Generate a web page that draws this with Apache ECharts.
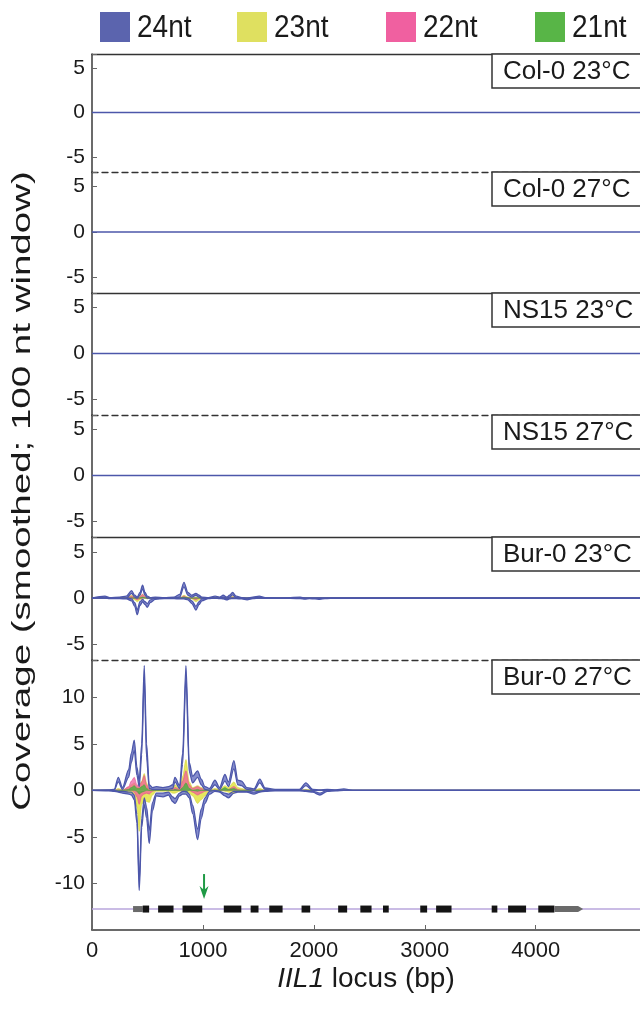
<!DOCTYPE html>
<html><head><meta charset="utf-8">
<script src="https://cdn.jsdelivr.net/npm/echarts@6/dist/echarts.min.js"></script>
<style>html,body{margin:0;padding:0;background:#fff}#c{width:640px;height:1010px}</style>
</head><body><div id="c"></div>
<script>
// ---------------- data ----------------
const SIZE_CLASSES = ['24nt', '23nt', '22nt', '21nt'];
const PANEL_LABELS = ['Col-0 23°C', 'Col-0 27°C', 'NS15 23°C', 'NS15 27°C', 'Bur-0 23°C', 'Bur-0 27°C'];
const X_TICKS = [0, 1000, 2000, 3000, 4000];
const Y_TICKS_SMALL = [-5, 0, 5];
const Y_TICKS_BIG = [-10, -5, 0, 5, 10];
const Y_AXIS_TITLE = 'Coverage (smoothed; 100 nt window)';

// flat (no coverage) panels: Col-0 23, Col-0 27, NS15 23, NS15 27
const X_FLAT = [0, 4940];
const FLAT = [0, 0];

// Bur-0 23°C
const X_B23 = [0,117,160,250,310, 357,385,408,432,456, 478,498,525,570,650, 740,790,829,865,900, 937,965,990,1050,1110, 1150,1183,1216,1240,1267, 1300,1350,1398,1450,1508, 1560,1700,1877,1920,1960, 2010,2054,2100,2200,4940];
const B23_24_POS_OUTER = [0,0.2,0.05,0.1,0.2, 0.8,0.3,0.1,0.6,1.4, 0.6,0.2,0.05,0.1,0.05, 0.1,0.4,1.7,0.6,0.3, 0.5,0.3,0.1,0.05,0.2, 0.1,0.3,0.1,0.3,0.6, 0.2,0.05,0,0.1,0.2, 0.05,0,0.1,0,0, 0,0,0,0,0];
const B23_24_POS_INNER = [0,0.1,0,0,0, 0.5,0.1,0,0.3,1.0, 0.3,0,0,0,0, 0,0.1,1.2,0.3,0.1, 0.3,0.1,0,0,0, 0,0.1,0,0.1,0.35, 0.05,0,0,0,0.1, 0,0,0,0,0, 0,0,0,0,0];
const B23_24_NEG_OUTER = [0,0,-0.05,-0.05,-0.1, -0.3,-0.9,-1.8,-0.8,-0.4, -0.7,-1.0,-0.5,-0.15,-0.05, -0.05,-0.1,-0.1,-0.2,-0.6, -1.3,-0.7,-0.3,-0.05,0, -0.05,-0.1,-0.2,-0.1,-0.05, -0.05,-0.1,-0.2,-0.05,0, 0,0,-0.05,-0.12,-0.05, -0.1,-0.15,-0.05,0,0];
const B23_24_NEG_INNER = [0,0,0,0,0, -0.1,-0.5,-1.3,-0.4,-0.15, -0.4,-0.6,-0.2,0,0, 0,0,0,0,-0.3, -0.9,-0.4,-0.1,0,0, 0,0,-0.1,0,0, 0,0,-0.1,0,0, 0,0,0,0,0, 0,0,0,0,0];
const B23_23_POS = [0,0,0,0,0, 0.3,0.1,0,0.2,0.4, 0.2,0,0,0,0, 0,0,0.3,0.1,0, 0.1,0,0,0,0, 0,0,0,0,0.2, 0,0,0,0,0, 0,0,0,0,0, 0,0,0,0,0];
const B23_23_NEG = [0,0,0,0,0, 0,-0.2,-0.4,-0.2,0, 0,-0.1,0,0,0, 0,0,0,0,-0.1, -0.4,-0.2,0,0,0, 0,0,0,0,0, 0,0,0,0,0, 0,0,0,0,0, 0,0,0,0,0];
const B23_22_POS = [0,0,0,0,0, 0.2,0,0,0.1,0.4, 0.1,0,0,0,0, 0,0,0.2,0,0, 0,0,0,0,0, 0,0,0,0,0.1, 0,0,0,0,0, 0,0,0,0,0, 0,0,0,0,0];
const B23_22_NEG = [0,0,0,0,0, 0,-0.05,-0.2,-0.05,0, 0,0,0,0,0, 0,0,0,0,0, -0.2,0,0,0,0, 0,0,0,0,0, 0,0,0,0,0, 0,0,0,0,0, 0,0,0,0,0];
const B23_21_POS = [0,0,0,0,0, 0,0,0,0,0.1, 0,0,0,0,0, 0,0,0.1,0,0, 0,0,0,0,0, 0,0,0,0,0, 0,0,0,0,0, 0,0,0,0,0, 0,0,0,0,0];
const B23_21_NEG = [0,0,0,0,0, 0,0,0,0,0, 0,0,0,0,0, 0,0,0,0,0, 0,0,0,0,0, 0,0,0,0,0, 0,0,0,0,0, 0,0,0,0,0, 0,0,0,0,0];

// Bur-0 27°C
const X_B27 = [0,150,200,237,275, 330,355,381,405,426, 448,471,492,516,545, 580,640,690,727,748, 790,817,847,877,907, 952,985,1018,1060,1108, 1150,1198,1230,1279,1315, 1348,1395,1460,1513,1560, 1650,1760,1870,1928,1990, 2054,2120,2200,2270,2350, 4940];
const B27_24_POS_OUTER = [0,0.05,0.1,1.4,0.3, 2.2,4.0,5.4,2.5,1.0, 5.0,13.4,5.0,0.6,0.3, 0.4,0.3,0.4,0.6,1.4, 0.5,4.0,13.4,3.0,1.5, 2.1,1.2,0.4,0.2,1.1, 0.3,1.7,0.9,3.2,1.1, 1.0,0.3,0.15,1.2,0.25, 0.1,0.1,0.1,0.8,0.1, 0.05,0.1,0.05,0.15,0, 0];
const B27_24_POS_INNER = [0,0,0,0.9,0.1, 1.4,3.0,4.3,1.6,0.4, 3.8,12.2,3.5,0.2,0.1, 0.1,0.1,0.1,0.2,0.9, 0.2,2.8,12.2,2.0,0.8, 1.4,0.6,0.1,0,0.6, 0.1,1.0,0.4,2.3,0.6, 0.5,0.1,0,0.8,0.1, 0,0,0,0.5,0, 0,0,0,0,0, 0];
const B27_24_NEG_OUTER = [0,-0.05,-0.1,-0.2,-0.3, -0.4,-0.5,-1.0,-3.5,-10.75, -4.0,-1.5,-3.0,-5.7,-2.2, -0.6,-0.7,-0.5,-1.2,-1.4, -0.6,-0.4,-0.4,-0.8,-2.5, -5.3,-3.0,-1.4,-0.4,-0.1, -0.2,-0.6,-0.8,-0.3,-0.2, -0.2,-0.2,-0.4,-0.2,-0.1, -0.05,-0.05,-0.05,-0.1,-0.2, -0.5,-0.1,-0.05,0,0, 0];
const B27_24_NEG_INNER = [0,0,0,-0.1,-0.1, -0.2,-0.2,-0.5,-2.6,-9.8, -3.0,-0.8,-1.8,-4.3,-1.3, -0.3,-0.3,-0.2,-0.7,-0.9, -0.3,-0.1,-0.1,-0.4,-1.6, -4.2,-2.0,-0.8,-0.1,0, -0.1,-0.3,-0.4,-0.1,-0.1, -0.1,-0.1,-0.2,-0.1,0, 0,0,0,0,-0.1, -0.3,0,0,0,0, 0];
const B27_23_POS = [0,0,0,0.2,0.05, 0.3,0.6,0.8,0.4,0.3, 1.0,1.8,0.8,0.1,0.05, 0.1,0.1,0.1,0.2,0.6, 0.2,1.5,3.3,0.9,0.3, 0.5,0.3,0.1,0,0.2, 0.1,0.5,0.3,0.9,0.3, 0.2,0.05,0,0.2,0, 0,0,0,0.1,0, 0,0,0,0,0, 0];
const B27_23_NEG = [0,0,0,-0.05,-0.1, -0.2,-0.3,-0.4,-1.8,-4.4, -1.5,-1.0,-1.2,-1.3,-0.5, -0.1,-0.1,-0.1,-0.3,-0.3, -0.1,-0.1,-0.1,-0.3,-0.6, -1.4,-1.0,-0.6,-0.1,0, 0,-0.1,-0.2,-0.3,-0.1, 0,0,0,0,0, 0,0,0,0,0, 0,0,0,0,0, 0];
const B27_22_POS = [0,0,0,0.05,0, 0.4,1.0,1.4,0.6,0.5, 0.9,1.6,0.6,0.1,0, 0,0,0,0.1,0.3, 0.1,1.0,2.1,0.6,0.2, 0.4,0.2,0,0,0, 0,0.2,0.1,0.4,0.1, 0,0,0,0,0, 0,0,0,0,0, 0,0,0,0,0, 0];
const B27_22_NEG = [0,0,0,0,0, 0,0,-0.2,-0.7,-1.5, -0.6,-0.4,-0.3,-0.4,-0.1, 0,0,0,0,0, 0,0,0,0,-0.2, -0.5,-0.3,-0.1,0,0, 0,0,0,0,0, 0,0,0,0,0, 0,0,0,0,0, 0,0,0,0,0, 0];
const B27_21_POS = [0,0,0,0,0, 0.1,0.3,0.5,0.2,0.2, 0.4,0.6,0.2,0,0, 0,0,0,0,0.1, 0,0.3,0.8,0.2,0, 0.1,0,0,0,0, 0,0.3,0.1,0.2,0, 0,0,0,0,0, 0,0,0,0,0, 0,0,0,0,0, 0];
const B27_21_NEG = [0,0,0,0,0, 0,0,0,-0.1,-0.4, -0.2,-0.1,0,0,0, 0,0,0,0,0, 0,0,-0.2,0,0, -0.1,0,0,0,0, 0,0,0,0,0, 0,0,0,0,0, 0,0,0,0,0, 0,0,0,0,0, 0];

// gene model (bp): kind 0 = 5'UTR, 1 = CDS exon, 2 = 3'UTR with arrow
const EXON_START = [370,457,596,816,1188,1430,1598,1889,2219,2419,2623,2959,3102,3603,3751,4023,4168];
const EXON_END   = [457,515,735,994,1346,1501,1718,1967,2300,2520,2675,3021,3241,3654,3913,4168,4427];
const EXON_KIND  = [0,1,1,1,1,1,1,1,1,1,1,1,1,1,1,1,2];
const LOCUS = [0, 4940];
const MARK_POS = [1010];

// ---------------- style / layout ----------------
const FONT = "'Liberation Sans', Arial, Helvetica, sans-serif";
const XMAX = 4940;
const LEGEND_COLORS = ['#5b64ae', '#dfe060', '#f060a0', '#58b547'];
const C24_LINE = '#4d57aa', C24_FILL = 'rgba(104,112,192,0.8)';
const FILL = { '23': 'rgba(226,228,78,0.9)', '22': 'rgba(240,90,160,0.72)', '21': 'rgba(80,178,68,0.85)' };
const EDGE = { '23': '#d3d43a', '22': '#e0508f', '21': '#4aa33a' };
const GRID_TOPS = [54, 172, 293, 415, 537, 660];
const GRID_BOTTOMS = [172, 293, 415, 537, 660, 930];
const SMALL_RANGE = [-6.7, 6.6], BIG_RANGE = [-15, 14];
const GENE_Y = -12.75;
const SMOOTH = 0.3;

const chart = echarts.init(document.getElementById('c'), null, { renderer: 'canvas' });

const grids = GRID_TOPS.map((t, i) => ({ left: 92, right: 0, top: t, height: GRID_BOTTOMS[i] - t, outerBoundsMode: 'none', containLabel: false }));

const xAxes = GRID_TOPS.map((t, i) => ({
  gridIndex: i, type: 'value', min: 0, max: XMAX, position: 'top',
  axisLine: { show: true, onZero: false, lineStyle: { color: '#333', width: 1.3, type: i % 2 === 0 ? 'solid' : [6, 4] } },
  axisTick: { show: false }, axisLabel: { show: false }, splitLine: { show: false }
}));
xAxes.push({
  gridIndex: 5, type: 'value', min: 0, max: XMAX, interval: 1000, position: 'bottom',
  axisLine: { show: true, onZero: false, lineStyle: { color: '#3a3a3a', width: 1.5 } },
  axisTick: { show: true, inside: true, length: 5, lineStyle: { color: '#666', width: 1 } },
  axisLabel: { fontSize: 22, fontFamily: FONT, color: '#1a1a1a', margin: 10,
    formatter: v => X_TICKS.includes(v) ? String(v) : '' },
  splitLine: { show: false }
});

const yAxes = GRID_TOPS.map((t, i) => {
  const big = i === 5;
  const rng = big ? BIG_RANGE : SMALL_RANGE;
  const ticks = big ? Y_TICKS_BIG : Y_TICKS_SMALL;
  return {
    gridIndex: i, type: 'value', min: rng[0], max: rng[1], minInterval: 5, maxInterval: 5,
    axisLine: { show: true, onZero: false, lineStyle: { color: '#3a3a3a', width: 1.5 } },
    axisTick: { show: true, inside: true, length: 5, lineStyle: { color: '#666', width: 1 } },
    axisLabel: { fontSize: 21, fontFamily: FONT, color: '#1a1a1a', margin: 7,
      formatter: v => ticks.includes(v) ? String(v) : '' },
    splitLine: { show: false }
  };
});

const xIdx = g => (g === 5 ? 6 : g);
const pts = (xs, ys) => xs.map((x, k) => [x, ys[k]]);
const series = [];
const base = (g, z) => ({ type: 'line', xAxisIndex: xIdx(g), yAxisIndex: g, smooth: SMOOTH, smoothMonotone: 'x',
  symbol: 'none', silent: true, z: z, animation: false });

// 24nt ribbon: outer filled area, inner area blanked in white, then both edges stroked
function bandFill(g, xs, inner, outer) {
  series.push(Object.assign(base(g, 2), { name: '24nt', data: pts(xs, outer), lineStyle: { width: 0 }, areaStyle: { color: C24_FILL, opacity: 1 } }));
  series.push(Object.assign(base(g, 2), { name: '24nt', data: pts(xs, inner), lineStyle: { width: 0 }, areaStyle: { color: '#ffffff', opacity: 1 } }));
}
function bandEdges(g, xs, inner, outer) {
  series.push(Object.assign(base(g, 6), { name: '24nt', data: pts(xs, outer), lineStyle: { color: C24_LINE, width: 1.3 } }));
  series.push(Object.assign(base(g, 6), { name: '24nt', data: pts(xs, inner), lineStyle: { color: C24_LINE, width: 1.3 } }));
}
function area(g, xs, vals, cls, z) {
  series.push(Object.assign(base(g, z), { name: cls + 'nt', data: pts(xs, vals),
    lineStyle: { color: EDGE[cls], width: 0.6 }, areaStyle: { color: FILL[cls], opacity: 1 } }));
}

// flat panels
for (let g = 0; g < 4; g++) {
  series.push(Object.assign(base(g, 2), { name: '24nt', smooth: false, data: pts(X_FLAT, FLAT), lineStyle: { color: C24_LINE, width: 1.5 } }));
}
// Bur-0 23
bandFill(4, X_B23, B23_24_POS_INNER, B23_24_POS_OUTER);
bandFill(4, X_B23, B23_24_NEG_INNER, B23_24_NEG_OUTER);
area(4, X_B23, B23_23_POS, '23', 3); area(4, X_B23, B23_23_NEG, '23', 3);
area(4, X_B23, B23_22_POS, '22', 4); area(4, X_B23, B23_22_NEG, '22', 4);
area(4, X_B23, B23_21_POS, '21', 5); area(4, X_B23, B23_21_NEG, '21', 5);
bandEdges(4, X_B23, B23_24_POS_INNER, B23_24_POS_OUTER);
bandEdges(4, X_B23, B23_24_NEG_INNER, B23_24_NEG_OUTER);
// Bur-0 27
bandFill(5, X_B27, B27_24_POS_INNER, B27_24_POS_OUTER);
bandFill(5, X_B27, B27_24_NEG_INNER, B27_24_NEG_OUTER);
area(5, X_B27, B27_23_POS, '23', 3); area(5, X_B27, B27_23_NEG, '23', 3);
area(5, X_B27, B27_22_POS, '22', 4); area(5, X_B27, B27_22_NEG, '22', 4);
area(5, X_B27, B27_21_POS, '21', 5); area(5, X_B27, B27_21_NEG, '21', 5);
bandEdges(5, X_B27, B27_24_POS_INNER, B27_24_POS_OUTER);
bandEdges(5, X_B27, B27_24_NEG_INNER, B27_24_NEG_OUTER);

// gene model: locus line
series.push({ type: 'custom', xAxisIndex: 6, yAxisIndex: 5, silent: true, z: 7, clip: false,
  data: [[LOCUS[0], LOCUS[1]]],
  renderItem: (p, api) => {
    const a = api.coord([api.value(0), GENE_Y]), b = api.coord([api.value(1), GENE_Y]);
    return { type: 'line', shape: { x1: a[0], y1: a[1], x2: b[0], y2: b[1] }, style: { stroke: '#b9a6dc', lineWidth: 1.5 } };
  } });
// gene model: exons
series.push({ type: 'custom', xAxisIndex: 6, yAxisIndex: 5, silent: true, z: 8, clip: false,
  data: EXON_START.map((s, k) => [s, EXON_END[k], EXON_KIND[k]]),
  renderItem: (p, api) => {
    const a = api.coord([api.value(0), GENE_Y]), b = api.coord([api.value(1), GENE_Y]);
    const kind = api.value(2);
    if (kind === 1) return { type: 'rect', shape: { x: a[0], y: a[1] - 3.5, width: b[0] - a[0], height: 7 }, style: { fill: '#141414' } };
    if (kind === 0) return { type: 'rect', shape: { x: a[0], y: a[1] - 3, width: b[0] - a[0], height: 6 }, style: { fill: '#6a6a6a' } };
    return { type: 'polygon', shape: { points: [[a[0], a[1] - 3], [b[0] - 5, a[1] - 3], [b[0], a[1]], [b[0] - 5, a[1] + 3], [a[0], a[1] + 3]] }, style: { fill: '#6a6a6a' } };
  } });
// green marker arrow
series.push({ type: 'custom', xAxisIndex: 6, yAxisIndex: 5, silent: true, z: 9, clip: false,
  data: MARK_POS.map(v => [v]),
  renderItem: (p, api) => {
    const c = api.coord([api.value(0), GENE_Y]);
    return { type: 'group', children: [
      { type: 'line', shape: { x1: c[0], y1: c[1] - 35, x2: c[0], y2: c[1] - 19 }, style: { stroke: '#1f9a45', lineWidth: 2 } },
      { type: 'polygon', shape: { points: [[c[0] - 4.5, c[1] - 23], [c[0], c[1] - 19], [c[0] + 4.5, c[1] - 23], [c[0], c[1] - 10]] }, style: { fill: '#1f9a45' } }
    ] };
  } });

// ---------------- graphics: legend, panel labels, titles ----------------
const graphic = [];
const LEG_X = [100, 237, 386, 535];
SIZE_CLASSES.forEach((name, i) => {
  graphic.push({ type: 'rect', shape: { x: LEG_X[i], y: 12, width: 30, height: 30 }, style: { fill: LEGEND_COLORS[i] } });
  graphic.push({ type: 'text', x: LEG_X[i] + 37, y: 28, scaleY: 1.12,
    style: { text: name, fontSize: 28, fontFamily: FONT, fill: '#1a1a1a', align: 'left', verticalAlign: 'middle' } });
});
PANEL_LABELS.forEach((lab, i) => {
  const t = GRID_TOPS[i];
  graphic.push({ type: 'rect', z: 20, shape: { x: 492, y: t, width: 160, height: 34 }, style: { fill: '#fff', stroke: '#333', lineWidth: 1.5 } });
  graphic.push({ type: 'text', z: 21, x: 503, y: t + 18,
    style: { text: lab, fontSize: 26, fontFamily: FONT, fill: '#1a1a1a', align: 'left', verticalAlign: 'middle' } });
});
graphic.push({ type: 'text', x: 23, y: 491, rotation: Math.PI / 2, scaleX: 1.48,
  style: { text: Y_AXIS_TITLE, fontSize: 26, fontFamily: FONT, fill: '#1a1a1a', align: 'center', verticalAlign: 'middle' } });
graphic.push({ type: 'text', x: 366, y: 979,
  style: { text: '{i|IIL1} locus (bp)', fontSize: 28, fontFamily: FONT, fill: '#1a1a1a', align: 'center', verticalAlign: 'middle',
    rich: { i: { fontStyle: 'italic', fontSize: 28, fontFamily: FONT, fill: '#1a1a1a' } } } });

chart.setOption({
  animation: false,
  backgroundColor: '#fff',
  grid: grids, xAxis: xAxes, yAxis: yAxes, series: series, graphic: graphic
});
</script></body></html>
